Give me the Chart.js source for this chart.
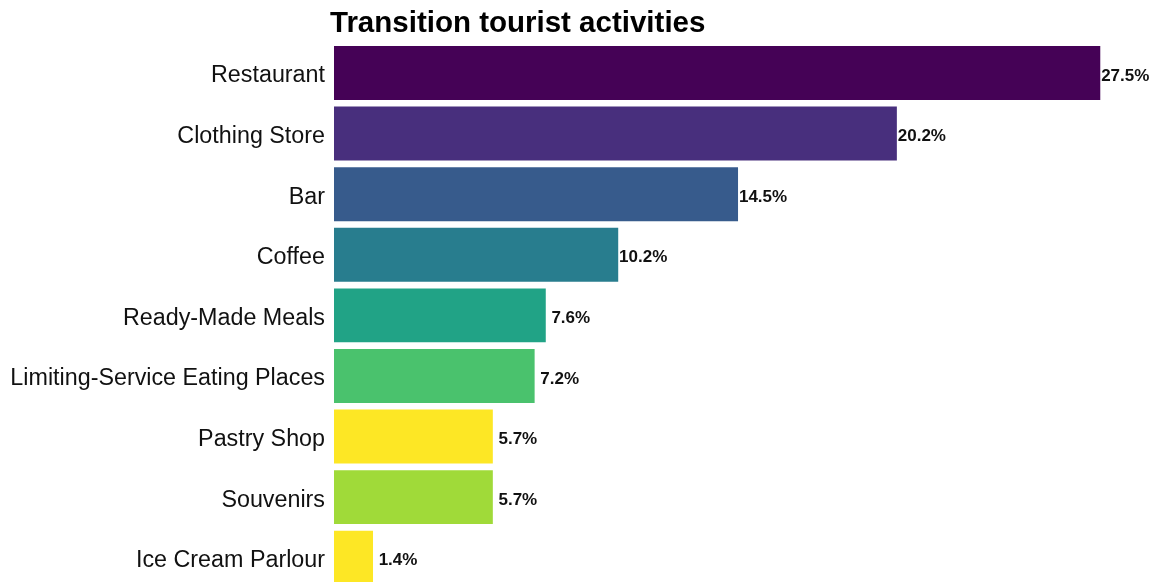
<!DOCTYPE html>
<html>
<head>
<meta charset="utf-8">
<script src="https://cdn.jsdelivr.net/npm/chart.js@4.4.1/dist/chart.umd.min.js"></script>
<style>
html,body{margin:0;padding:0;background:#fff;overflow:hidden;}
#c{display:block;}
</style>
</head>
<body>
<canvas id="c" width="1156" height="590" style="width:1156px;height:590px;"></canvas>
<script>
const categories = ["Restaurant","Clothing Store","Bar","Coffee","Ready-Made Meals","Limiting-Service Eating Places","Pastry Shop","Souvenirs","Ice Cream Parlour"];
const shares = [27.5, 20.2, 14.5, 10.2, 7.6, 7.2, 5.7, 5.7, 1.4];
const barColors = ["#450256","#482f7d","#375b8c","#287d8e","#21a386","#4ac26d","#fde725","#a0da39","#fde725"];
const titleText = "Transition tourist activities";

const FONT = "'Liberation Sans', Arial, sans-serif";

const valueLabels = {
  id: 'valueLabels',
  afterDatasetsDraw(chart) {
    const ctx = chart.ctx;
    const meta = chart.getDatasetMeta(0);
    ctx.save();
    ctx.font = "bold 17px " + FONT;
    ctx.fillStyle = "#111";
    ctx.textAlign = "center";
    ctx.textBaseline = "middle";
    meta.data.forEach((bar, i) => {
      ctx.fillText(shares[i].toFixed(1) + "%", bar.x + 25, bar.y + 3);
    });
    ctx.restore();
  }
};

const titlePlugin = {
  id: 'titlePlugin',
  afterDraw(chart) {
    const ctx = chart.ctx;
    ctx.save();
    ctx.font = "bold 29.5px " + FONT;
    ctx.fillStyle = "#000";
    ctx.textAlign = "left";
    ctx.textBaseline = "alphabetic";
    ctx.fillText(titleText, chart.chartArea.left - 4, 32);
    ctx.restore();
  }
};

new Chart(document.getElementById('c'), {
  type: 'bar',
  data: {
    labels: categories,
    datasets: [{
      data: shares,
      backgroundColor: barColors,
      borderWidth: 0,
      barPercentage: 0.89,
      categoryPercentage: 1.0
    }]
  },
  options: {
    indexAxis: 'y',
    responsive: false,
    maintainAspectRatio: false,
    animation: false,
    devicePixelRatio: 1,
    layout: { padding: { left: 0, right: 0, top: 42.7, bottom: 2 } },
    plugins: {
      legend: { display: false },
      tooltip: { enabled: false },
      title: { display: false }
    },
    scales: {
      x: {
        display: false,
        min: 0,
        max: 29.5
      },
      y: {
        grid: { display: false, drawTicks: false },
        border: { display: false },
        ticks: {
          color: '#111',
          padding: 9,
          labelOffset: 3,
          font: { family: FONT, size: 23.3 }
        },
        afterFit(scale) {
          scale.width = 334;
          scale.paddingTop = 0;
          scale.paddingBottom = 0;
        }
      }
    }
  },
  plugins: [valueLabels, titlePlugin]
});
</script>
</body>
</html>
